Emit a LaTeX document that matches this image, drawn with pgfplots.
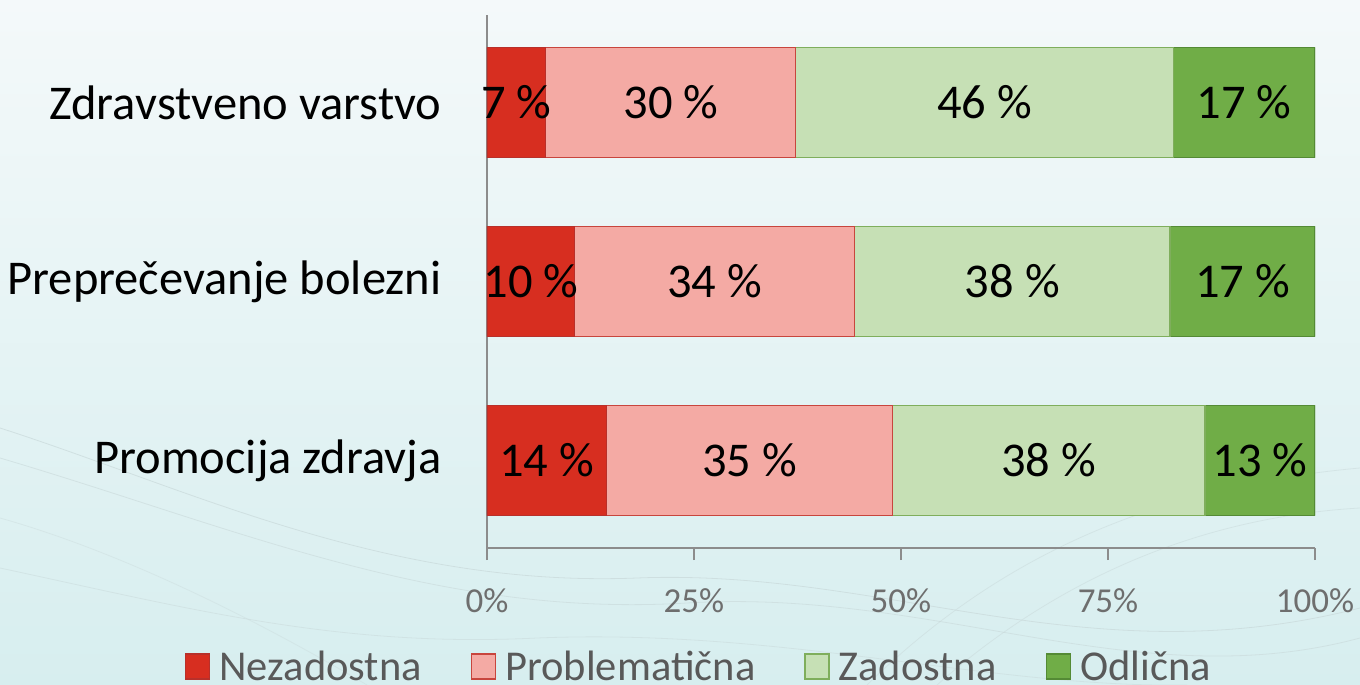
\documentclass[border=0pt]{standalone}
\usepackage{pgfplots}
\pgfplotsset{compat=1.18}
\usepackage{fontspec}
\setmainfont{Carlito}
\definecolor{cRed}{HTML}{D72E20}
\definecolor{cRedB}{HTML}{B8302A}
\definecolor{cPink}{HTML}{F4AAA4}
\definecolor{cPinkB}{HTML}{C8453D}
\definecolor{cLGreen}{HTML}{C6E0B5}
\definecolor{cLGreenB}{HTML}{7FAE5C}
\definecolor{cGreen}{HTML}{70AD47}
\definecolor{cGreenB}{HTML}{548A35}
\definecolor{axgray}{HTML}{8C8C8C}
\definecolor{tickgray}{HTML}{6E6E6E}
\definecolor{leggray}{HTML}{595959}
\definecolor{bgTop}{HTML}{F4F9FA}
\definecolor{bgBot}{HTML}{D7EEEF}
\definecolor{wave}{HTML}{C9D9DA}
\begin{document}
\begin{tikzpicture}[x=1pt,y=1pt]
\shade[top color=bgTop,bottom color=bgBot] (-487,-137) rectangle (873,548);
\begin{scope}
\clip (-487,-137) rectangle (873,548);
\draw[wave, line width=0.8pt, opacity=0.7] (-487,120) .. controls (-300,60) and (-100,-40) .. (150,-30) .. controls (400,-20) and (600,-130) .. (873,-60);
\draw[wave, line width=0.8pt, opacity=0.6] (-487,90) .. controls (-250,20) and (-50,-70) .. (200,-55) .. controls (450,-40) and (650,-150) .. (873,-90);
\draw[wave, line width=0.8pt, opacity=0.5] (-487,-20) .. controls (-300,-60) and (-150,-100) .. (50,-90) .. controls (300,-80) and (500,-140) .. (700,-137);
\draw[wave, line width=0.8pt, opacity=0.5] (380,-137) .. controls (500,-20) and (650,60) .. (873,80);
\draw[wave, line width=0.8pt, opacity=0.5] (450,-137) .. controls (560,-40) and (700,30) .. (873,40);
\draw[wave, line width=0.8pt, opacity=0.4] (-487,30) .. controls (-380,0) and (-250,-60) .. (-120,-137);
\end{scope}
\useasboundingbox (-487,-137) rectangle (873,548);
\begin{axis}[
  at={(0,0)}, anchor=south west,
  scale only axis, width=828pt, height=533pt,
  xbar stacked, bar width=110pt,
  xmin=0, xmax=100, ymin=-0.49, ymax=2.49,
  axis x line*=bottom, axis y line*=left,
  axis line style={draw=axgray, line width=1.2pt},
  xtick={0,25,50,75,100},
  xticklabels={0\%,25\%,50\%,75\%,100\%},
  tick align=outside, major tick length=12pt,
  xtick style={draw=axgray, line width=1.2pt},
  xticklabel style={font=\fontsize{35}{42}\selectfont, text=tickgray, yshift=-25pt},
  ytick={0,1,2},
  yticklabels={Promocija zdravja, Preprečevanje bolezni, Zdravstveno varstvo},
  ytick style={draw=none},
  yticklabel style={font=\fontsize{48.5}{58}\selectfont, text=black, xshift=-30pt},
  point meta=explicit symbolic,
  nodes near coords,
  every node near coord/.append style={anchor=center, font=\fontsize{48.5}{58}\selectfont, text=black},
  legend columns=4,
  legend style={draw=none, fill=none, inner sep=0pt, at={(-0.365,-0.222)}, anchor=west,
    font=\fontsize{42.5}{50}\selectfont, text=leggray,
    /tikz/every odd column/.append style={column sep=7pt},
    /tikz/every even column/.append style={column sep=47pt}},
  legend image code/.code={\draw[#1, line width=1.5pt] (0pt,-12.5pt) rectangle (24pt,12.5pt);},
]
\addplot[fill=cRed, draw=cRedB, line width=1.3pt] coordinates {(14.4,0)[14 \%] (10.6,1)[10 \%] (7.1,2)[7 \%]};
\addplot[fill=cPink, draw=cPinkB, line width=1.3pt] coordinates {(34.6,0)[35 \%] (33.8,1)[34 \%] (30.2,2)[30 \%]};
\addplot[fill=cLGreen, draw=cLGreenB, line width=1.3pt] coordinates {(37.7,0)[38 \%] (38.1,1)[38 \%] (45.6,2)[46 \%]};
\addplot[fill=cGreen, draw=cGreenB, line width=1.3pt] coordinates {(13.3,0)[13 \%] (17.5,1)[17 \%] (17.1,2)[17 \%]};
\legend{Nezadostna, Problematična, Zadostna, Odlična}
\end{axis}
\end{tikzpicture}
\end{document}
